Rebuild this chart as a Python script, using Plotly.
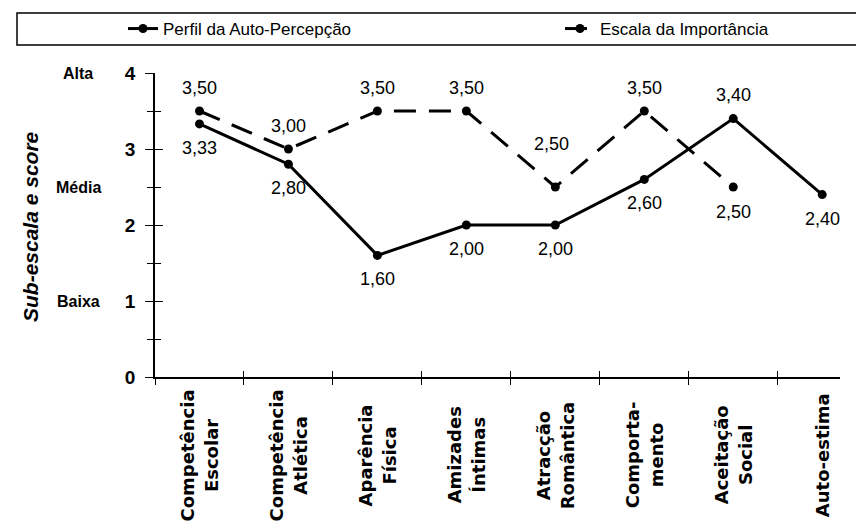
import plotly.graph_objects as go

# Sub-scales (two-line names are split with <br>)
categories = [
    "Competência<br>Escolar",
    "Competência<br>Atlética",
    "Aparência<br>Física",
    "Amizades<br>Íntimas",
    "Atracção<br>Romântica",
    "Comporta-<br>mento",
    "Aceitação<br>Social",
    "Auto-estima",
]
perfil = [3.33, 2.80, 1.60, 2.00, 2.00, 2.60, 3.40, 2.40]
importancia = [3.50, 3.00, 3.50, 3.50, 2.50, 3.50, 2.50]
series_names = ["Perfil da Auto-Percepção", "Escala da Importância"]
y_ticks = [0, 1, 2, 3, 4]
level_names = ["Alta", "Média", "Baixa"]
level_values = [4, 2.5, 1]
y_title = "Sub-escala e score"

# Page geometry
W, H = 856, 524
ML, MR, MT, MB = 155, 16, 73, 147
PW = W - ML - MR
PH = H - MT - MB


def paper_x(px):
    return (px - ML) / PW


def paper_y(py):
    return (H - MB - py) / PH


def fmt(v):
    return f"{v:.2f}".replace(".", ",")


x_idx = list(range(len(categories)))
x_range = [-0.5, 7.2]
boundaries = [i - 0.5 for i in x_idx]

LABEL_FONT = "Liberation Sans, Arial, sans-serif"
LEGEND_FONT = dict(family=LABEL_FONT, size=17, color="black")

fig = go.Figure()
fig.add_trace(go.Scatter(
    x=x_idx, y=perfil, name=series_names[0], mode="lines+markers",
    line=dict(color="black", width=3),
    marker=dict(color="black", size=9),
    legend="legend",
))
fig.add_trace(go.Scatter(
    x=x_idx[:len(importancia)], y=importancia, name=series_names[1],
    mode="lines+markers",
    line=dict(color="black", width=3, dash="22px,13px"),
    marker=dict(color="black", size=9),
    legend="legend2",
))
# Empty traces so the mirrored tick axes (ticks crossing the axis lines) render
fig.add_trace(go.Scatter(x=[None], y=[None], xaxis="x2", yaxis="y2",
                         showlegend=False, hoverinfo="skip"))

annotations = []

# Value labels: perfil mostly below its points, importância mostly above
perfil_above = {6}
importancia_below = {6}
extra_shift = {("imp", 4): 20}
for i, v in enumerate(perfil):
    s = 24 if i in perfil_above else -24
    annotations.append(dict(x=i, y=v, xref="x", yref="y", text=fmt(v),
                            showarrow=False, yshift=s,
                            font=dict(family=LABEL_FONT, size=18, color="black")))
for i, v in enumerate(importancia):
    s = -25 if i in importancia_below else 23
    s += extra_shift.get(("imp", i), 0)
    xs = -4 if ("imp", i) in extra_shift else 0
    annotations.append(dict(x=i, y=v, xref="x", yref="y", text=fmt(v),
                            showarrow=False, yshift=s, xshift=xs,
                            font=dict(family=LABEL_FONT, size=18, color="black")))

# Category names, rotated and centred below the axis
for i, c in enumerate(categories):
    annotations.append(dict(x=i, y=paper_y(455), xref="x", yref="paper",
                            text=c, textangle=-90, showarrow=False,
                            align="center", xanchor="center", yanchor="middle",
                            font=dict(family="DejaVu Sans", size=18,
                                      color="black", weight="bold")))

# Qualitative levels next to the score axis
for name, val in zip(level_names, level_values):
    annotations.append(dict(x=paper_x(78), y=val, xref="paper", yref="y",
                            text=name, showarrow=False,
                            xanchor="center", yanchor="middle",
                            font=dict(family=LABEL_FONT, size=16,
                                      color="black", weight="bold")))

# Axis title
annotations.append(dict(x=paper_x(30), y=paper_y(227), xref="paper",
                        yref="paper", text=f"<i>{y_title}</i>",
                        textangle=-90, showarrow=False,
                        xanchor="center", yanchor="middle",
                        font=dict(family=LABEL_FONT, size=21,
                                  color="black", weight="bold")))

axis_common = dict(showgrid=False, zeroline=False)
legend_common = dict(orientation="h", xanchor="left", yanchor="middle",
                     y=paper_y(29), bgcolor="rgba(0,0,0,0)", borderwidth=0,
                     font=LEGEND_FONT)

fig.update_layout(
    width=W, height=H,
    margin=dict(l=ML, r=MR, t=MT, b=MB, pad=0, autoexpand=False),
    paper_bgcolor="white", plot_bgcolor="white",
    showlegend=True,
    legend=dict(x=paper_x(123), **legend_common),
    legend2=dict(x=paper_x(560), **legend_common),
    xaxis=dict(range=x_range, tickvals=boundaries, ticks="outside",
               ticklen=6, tickwidth=1, tickcolor="black",
               showticklabels=False, showline=True, linecolor="black",
               linewidth=1.5, **axis_common),
    xaxis2=dict(range=x_range, tickvals=boundaries, ticks="inside",
                ticklen=6, tickwidth=1, tickcolor="black",
                showticklabels=False, showline=False,
                overlaying="x", anchor="y", **axis_common),
    yaxis=dict(range=[0, 4], tickvals=y_ticks, ticks="outside",
               ticklen=8, tickwidth=1, tickcolor="black",
               minor=dict(dtick=0.5, ticks="outside", ticklen=6,
                          tickcolor="black", tickwidth=1),
               showline=True, linecolor="black", linewidth=1.5,
               ticklabelstandoff=6,
               tickfont=dict(family=LABEL_FONT, size=19, color="black",
                             weight="bold"),
               **axis_common),
    yaxis2=dict(range=[0, 4], tickvals=y_ticks, ticks="inside",
                ticklen=8, tickwidth=1, tickcolor="black",
                minor=dict(dtick=0.5, ticks="inside", ticklen=6,
                           tickcolor="black", tickwidth=1),
                showticklabels=False, showline=False,
                overlaying="y", anchor="x", **axis_common),
    annotations=annotations,
    shapes=[dict(type="rect", xref="paper", yref="paper",
                 x0=paper_x(17), x1=paper_x(880),
                 y0=paper_y(45), y1=paper_y(13),
                 line=dict(color="black", width=1.5),
                 fillcolor="rgba(0,0,0,0)", layer="below")],
)

fig.write_html("out.html")
